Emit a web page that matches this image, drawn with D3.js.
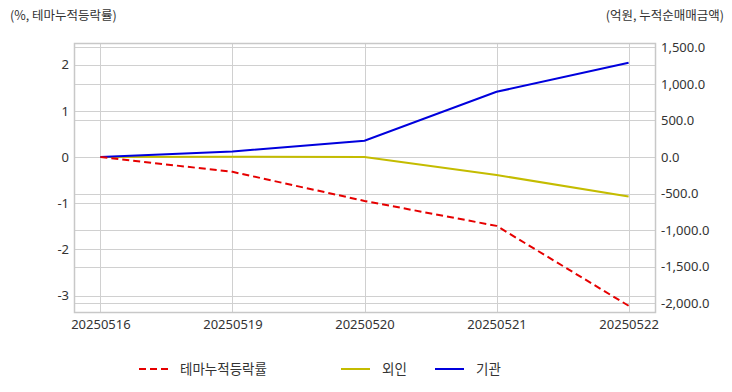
<!DOCTYPE html>
<html>
<head>
<meta charset="utf-8">
<script src="https://cdn.jsdelivr.net/npm/d3@7"></script>
<style>
  body { margin: 0; background: #fff; }
  svg { font-family: "Noto Sans CJK KR", "Noto Sans", sans-serif; }
</style>
</head>
<body>
<svg width="732" height="392"></svg>
<script>
// data
const dates = ['20250516', '20250519', '20250520', '20250521', '20250522'];
const themeRate = [0, -0.32, -0.95, -1.49, -3.22];     // %, left axis
const foreign = [0, 5, 0, -246, -540];                  // 억원, right axis
const institution = [0, 75, 223, 892, 1290];            // 억원, right axis
const leftTicks = [2, 1, 0, -1, -2, -3];
const rightTicks = [1500, 1000, 500, 0, -500, -1000, -1500, -2000];

const svg = d3.select('svg');
const plotL = 74, plotR = 655, plotT = 43, plotB = 312;

const x = d3.scalePoint().domain(dates).range([plotL, plotR]).padding(0.2);
const yL = d3.scaleLinear().domain([-3.355, 2.47]).range([plotB, plotT]);
const yR = d3.scaleLinear().domain([-2120, 1560]).range([plotB, plotT]);

const grid = svg.append('g').attr('stroke', '#d0d0d0').attr('stroke-width', 1);

// horizontal grid from both axes
grid.selectAll('.hl').data(leftTicks).enter().append('line')
  .attr('x1', plotL).attr('x2', plotR)
  .attr('y1', d => Math.round(yL(d)) + 0.5).attr('y2', d => Math.round(yL(d)) + 0.5);
grid.selectAll('.hr').data(rightTicks).enter().append('line')
  .attr('x1', plotL).attr('x2', plotR)
  .attr('y1', d => Math.round(yR(d)) + 0.5).attr('y2', d => Math.round(yR(d)) + 0.5);
grid.selectAll('.v').data(dates).enter().append('line')
  .attr('y1', plotT).attr('y2', plotB)
  .attr('x1', d => Math.round(x(d)) + 0.5).attr('x2', d => Math.round(x(d)) + 0.5);

svg.append('rect')
  .attr('x', plotL + 0.5).attr('y', plotT + 0.5)
  .attr('width', plotR - plotL).attr('height', plotB - plotT)
  .attr('fill', 'none').attr('stroke', '#c8c8c8').attr('stroke-width', 1.5);

// axes
const axL = svg.append('g').attr('transform', `translate(${plotL},0)`)
  .call(d3.axisLeft(yL).tickValues(leftTicks).tickSize(0).tickPadding(5).tickFormat(d3.format('d')));
const axR = svg.append('g').attr('transform', `translate(${plotR},0)`)
  .call(d3.axisRight(yR).tickValues(rightTicks).tickSize(0).tickPadding(6).tickFormat(d3.format(',.1f')));
const axB = svg.append('g').attr('transform', `translate(0,${plotB})`)
  .call(d3.axisBottom(x).tickSize(0).tickPadding(8));

[axL, axR, axB].forEach(a => {
  a.select('.domain').remove();
  a.selectAll('text').attr('fill', '#333').style('font-size', '13px')
    .style('font-family', '"Noto Sans", "Noto Sans CJK KR", sans-serif');
});
axL.selectAll('text').text(d => d < 0 ? '-' + Math.abs(d) : d);
axR.selectAll('text').text(d => (d < 0 ? '-' : '') + d3.format(',.1f')(Math.abs(d)));

// lines
const lineL = d3.line().x((d, i) => x(dates[i])).y(d => yL(d));
const lineR = d3.line().x((d, i) => x(dates[i])).y(d => yR(d));

svg.append('path').datum(foreign).attr('d', lineR)
  .attr('fill', 'none').attr('stroke', '#c4bc00').attr('stroke-width', 2);
svg.append('path').datum(institution).attr('d', lineR)
  .attr('fill', 'none').attr('stroke', '#0000dd').attr('stroke-width', 2);
svg.append('path').datum(themeRate).attr('d', lineL)
  .attr('fill', 'none').attr('stroke', '#e60000').attr('stroke-width', 2)
  .attr('stroke-dasharray', '7,4');

// axis titles
svg.append('text').attr('x', 10).attr('y', 20).text('(%, 테마누적등락률)')
  .attr('fill', '#333').style('font-size', '12.5px');
svg.append('text').attr('x', 724).attr('y', 20).attr('text-anchor', 'end')
  .text('(억원, 누적순매매금액)').attr('fill', '#333').style('font-size', '12.5px');

// legend
const legend = [
  { name: '테마누적등락률', color: '#e60000', dash: '7,4', x: 139 },
  { name: '외인', color: '#c4bc00', dash: null, x: 341 },
  { name: '기관', color: '#0000dd', dash: null, x: 435 }
];
const lg = svg.selectAll('.lg').data(legend).enter().append('g')
  .attr('transform', d => `translate(${d.x},369)`);
lg.append('line').attr('x1', 0).attr('x2', 29).attr('y1', 0).attr('y2', 0)
  .attr('stroke', d => d.color).attr('stroke-width', 2)
  .attr('stroke-dasharray', d => d.dash);
lg.append('text').attr('x', 41).attr('y', 5).text(d => d.name)
  .attr('fill', '#333').style('font-size', '13.5px');
</script>
</body>
</html>
